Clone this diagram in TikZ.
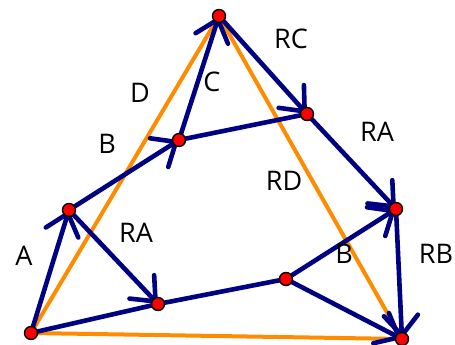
\documentclass[tikz,border=0pt]{standalone}
\usepackage{fontspec}
\setmainfont{Open Sans}
\usetikzlibrary{arrows.meta}
\definecolor{navyb}{RGB}{0,0,130}
\definecolor{orng}{RGB}{255,140,0}
\tikzset{
  blue edge/.style={draw=navyb, line width=4.6pt, line cap=round},
  arr/.style={blue edge, -{Straight Barb[length=20pt, width=34pt, line cap=round]}},
  orange edge/.style={draw=orng, line width=4pt, line cap=round},
  dot/.style={circle, fill=red, draw=black, line width=1.4pt, minimum size=13pt, inner sep=0pt},
  lbl/.style={font=\fontsize{27}{27}\selectfont, inner sep=0pt, anchor=center}
}
\begin{document}
\begin{tikzpicture}[x=1pt, y=-1pt]
\useasboundingbox (0,0) rectangle (455,345);
\coordinate (T) at (219,16);
\coordinate (M1) at (179,140);
\coordinate (R1) at (307,114);
\coordinate (L) at (69,210);
\coordinate (BL) at (31,333);
\coordinate (M2) at (158,304);
\coordinate (M3) at (286,279);
\coordinate (R2) at (396,209);
\coordinate (BR) at (402,339);
% orange
\draw[orange edge] (BL) -- (T);
\draw[orange edge] (T) -- (BR);
\draw[orange edge] (BL) -- (BR);
% blue
\draw[arr] (BL) -- (L);
\draw[arr] (L) -- (M1);
\draw[arr] (M1) -- (T);
\draw[arr] (T) -- (R1);
\draw[blue edge] (M1) -- (R1);
\draw[arr] (R1) -- (R2);
\draw[arr] (L) -- (M2);
\draw[blue edge] (BL) -- (M2);
\draw[blue edge] (M2) -- (M3);
\draw[arr] (M3) -- (R2);
\draw[arr] (M3) -- (BR);
\draw[arr] (R2) -- (BR);
% dots
\foreach \p in {T,M1,R1,L,BL,M2,M3,R2,BR}
  \node[dot] (d\p) at (\p) {};
% labels
\node[lbl] (lRC) at (291,39) {RC};
\node[lbl] (lD) at (140,93) {D};
\node[lbl] (lC) at (212,82) {C};
\node[lbl] (lB1) at (107,144) {B};
\node[lbl] (lRA1) at (377,132) {RA};
\node[lbl] (lRD) at (284,181) {RD};
\node[lbl] (lB2) at (344,254) {B};
\node[lbl] (lRB) at (436,254) {RB};
\node[lbl] (lA) at (24,256) {A};
\node[lbl] (lRA2) at (136,233) {RA};
\end{tikzpicture}
\end{document}
